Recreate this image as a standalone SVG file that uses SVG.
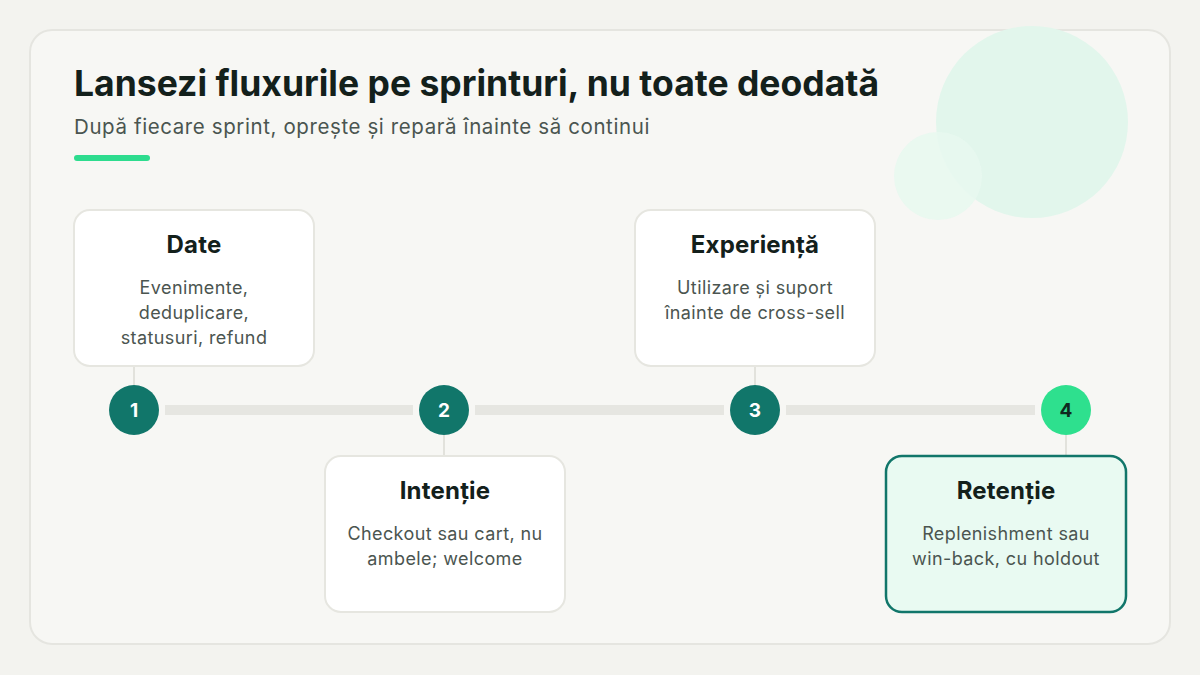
<svg xmlns="http://www.w3.org/2000/svg" width="1200" height="675" viewBox="0 0 1200 675">
<style>
.title{font-family:Inter,"Noto Sans",sans-serif;font-weight:700;fill:#13201b}
.sub{font-family:Inter,"Noto Sans",sans-serif;font-size:20.5px;letter-spacing:0.6px;fill:#4a5550}
.card{fill:#ffffff;stroke:#e6e6e0;stroke-width:2}
.ctitle{font-family:Inter,"Noto Sans",sans-serif;font-weight:700;font-size:24px;letter-spacing:0.2px;fill:#13201b;text-anchor:middle}
.body{font-family:Inter,"Noto Sans",sans-serif;font-size:18px;letter-spacing:0.4px;fill:#4b5550;text-anchor:middle}
.track{fill:#e6e6e1}
.stem{stroke:#e2e2dc;stroke-width:2}
.dot{fill:#11766a}
.num{font-family:Inter,"Noto Sans",sans-serif;font-weight:700;font-size:19px;fill:#ffffff;text-anchor:middle}
</style>
<rect width="1200" height="675" fill="#f3f3ef"/>
<rect x="30" y="30" width="1140" height="614" rx="22" fill="#f7f7f4" stroke="#e5e5e0" stroke-width="2"/>
<circle cx="1032" cy="122" r="96" fill="#e2f6ec"/>
<circle cx="938" cy="176" r="44" fill="#e8f8f0" opacity="0.9"/>
<text class="title" x="74" y="96" font-size="35.5">Lansezi fluxurile pe sprinturi, nu toate deodată</text>
<text class="sub" x="74" y="134">După fiecare sprint, oprește și repară înainte să continui</text>
<rect x="74" y="155" width="76" height="6" rx="3" fill="#2ddc8e"/>
<g id="connectors">
<rect class="track" x="165" y="405" width="248" height="10"/>
<rect class="track" x="475" y="405" width="249" height="10"/>
<rect class="track" x="786" y="405" width="249" height="10"/>
<line class="stem" x1="134" y1="366" x2="134" y2="385"/>
<line class="stem" x1="755" y1="366" x2="755" y2="385"/>
<line class="stem" x1="444" y1="435" x2="444" y2="456"/>
<line class="stem" x1="1066" y1="435" x2="1066" y2="456"/>
</g>
<g id="step1">
<rect class="card" x="74" y="210" width="240" height="156" rx="16"/>
<text class="ctitle" x="194" y="253">Date</text>
<text class="body" x="194" y="294">Evenimente,</text>
<text class="body" x="194" y="319">deduplicare,</text>
<text class="body" x="194" y="344">statusuri, refund</text>
<circle class="dot" cx="134" cy="410" r="25"/>
<text class="num" x="134" y="417">1</text>
</g>
<g id="step2">
<rect class="card" x="325" y="456" width="240" height="156" rx="16"/>
<text class="ctitle" x="445" y="499">Intenție</text>
<text class="body" x="445" y="540">Checkout sau cart, nu</text>
<text class="body" x="445" y="565">ambele; welcome</text>
<circle class="dot" cx="444" cy="410" r="25"/>
<text class="num" x="444" y="417">2</text>
</g>
<g id="step3">
<rect class="card" x="635" y="210" width="240" height="156" rx="16"/>
<text class="ctitle" x="755" y="253">Experiență</text>
<text class="body" x="755" y="294">Utilizare și suport</text>
<text class="body" x="755" y="319">înainte de cross-sell</text>
<circle class="dot" cx="755" cy="410" r="25"/>
<text class="num" x="755" y="417">3</text>
</g>
<g id="step4">
<rect x="886" y="456" width="240" height="156" rx="16" fill="#e9faf2" stroke="#11766a" stroke-width="2.5"/>
<text class="ctitle" x="1006" y="499">Retenție</text>
<text class="body" x="1006" y="540">Replenishment sau</text>
<text class="body" x="1006" y="565">win-back, cu holdout</text>
<circle cx="1066" cy="410" r="25" fill="#2ee08e"/>
<text class="num" x="1066" y="417" style="fill:#0f2a20">4</text>
</g>
</svg>
